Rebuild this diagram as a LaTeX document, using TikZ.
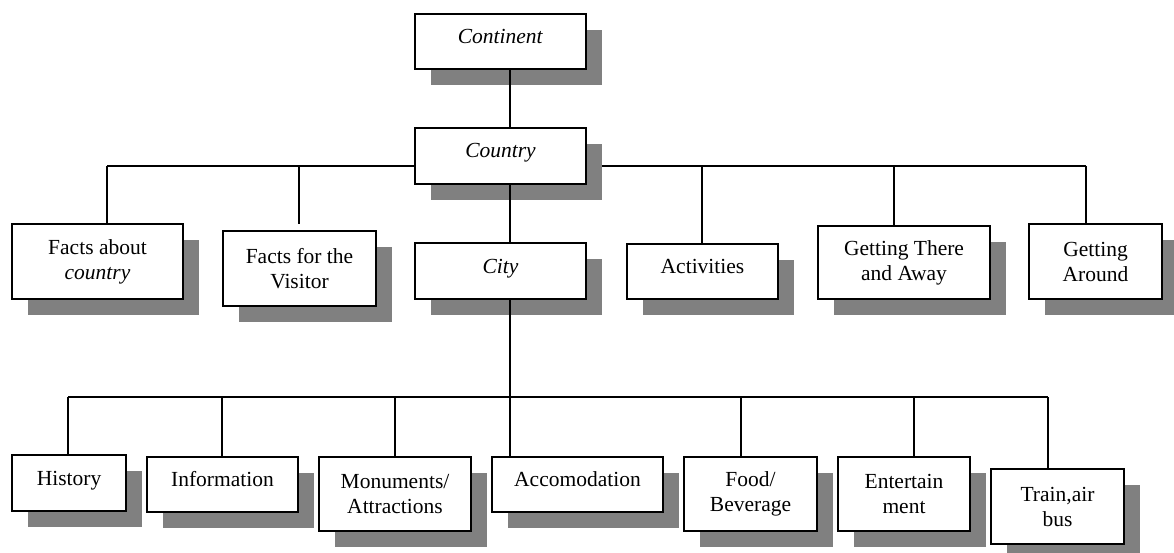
\documentclass[tikz,border=0pt]{standalone}
\usepackage{fontspec}
\setmainfont{Liberation Serif}
\usetikzlibrary{shadows,backgrounds}
\tikzset{
  basic/.style = {draw, line width=1.8pt, fill=white, align=center, inner sep=0pt,
                  font=\fontsize{21.5}{25}\selectfont,
                  drop shadow={shadow xshift=16pt, shadow yshift=-16pt,
                               fill=black!50, opacity=1}},
  one/.style   = {basic, text height=15pt, text depth=11pt},
  two/.style   = {basic},
  link/.style  = {line width=1.3pt}
}
\begin{document}
\begin{tikzpicture}[x=1pt,y=-1pt]
  \useasboundingbox (0,0) rectangle (1174,553);
  % top levels
  \node[one, minimum width=171pt, minimum height=55pt] (continent) at (500.5,41.5) {\textit{Continent}};
  \node[one, minimum width=171pt, minimum height=56pt] (country) at (500.5,156) {\textit{Country}};
  \node[one, minimum width=171pt, minimum height=56pt] (city) at (500.5,271) {\textit{City}};
  % country row
  \node[two, minimum width=171pt, minimum height=75pt] (facts) at (97.5,261.5) {Facts about\\\textit{country}};
  \node[two, minimum width=153pt, minimum height=75pt] (visitor) at (299.5,268.5) {Facts for the\\Visitor};
  \node[one, minimum width=151pt, minimum height=55pt] (activ) at (702.5,271.5) {Activities};
  \node[two, minimum width=172pt, minimum height=73pt] (there) at (904,262.5) {Getting There\\and Away};
  \node[two, minimum width=133pt, minimum height=75pt] (around) at (1095.5,261.5) {Getting\\Around};
  % city row
  \node[one, minimum width=114pt, minimum height=56pt] (hist) at (69,483) {History};
  \node[one, minimum width=151pt, minimum height=55pt] (info) at (222.5,484.5) {Information};
  \node[two, minimum width=152pt, minimum height=74pt] (monu) at (395,494) {Monuments/\\Attractions};
  \node[one, minimum width=171pt, minimum height=55pt] (accom) at (577.5,484.5) {Accomodation};
  \node[two, minimum width=133pt, minimum height=74pt] (food) at (750.5,494) {Food/\\Beverage};
  \node[two, minimum width=132pt, minimum height=74pt] (enter) at (904,494) {Entertain\\ment};
  \node[two, minimum width=133pt, minimum height=75pt] (train) at (1057.5,506.5) {Train,air\\bus};
  % bus taps
  \coordinate (cb1) at (107,166);
  \coordinate (cb2) at (299,166);
  \coordinate (cb3) at (702,166);
  \coordinate (cb4) at (894,166);
  \coordinate (cb5) at (1086,166);
  \coordinate (kb0) at (510,397);
  \coordinate (kb1) at (68,397);
  \coordinate (kb2) at (222,397);
  \coordinate (kb3) at (395,397);
  \coordinate (kb5) at (741,397);
  \coordinate (kb6) at (914,397);
  \coordinate (kb7) at (1048,397);
  \begin{scope}[on background layer]
    \draw[link] (cb1) -- (cb5);
    \draw[link] (kb1) -- (kb7);
  \end{scope}
  \draw[link] (kb0 |- continent.south) -- (kb0 |- country.north);
  \draw[link] (kb0 |- country.south) -- (kb0 |- city.north);
  \draw[link] (kb0 |- city.south) -- (kb0 |- accom.north);
  \foreach \t/\n in {cb1/facts, cb3/activ, cb4/there, cb5/around,
                     kb1/hist, kb2/info, kb3/monu, kb5/food, kb6/enter, kb7/train}
    \draw[link] (\t) -- (\t |- \n.north);
  \draw[link, shorten >=6pt] (cb2) -- (cb2 |- visitor.north);
\end{tikzpicture}
\end{document}
